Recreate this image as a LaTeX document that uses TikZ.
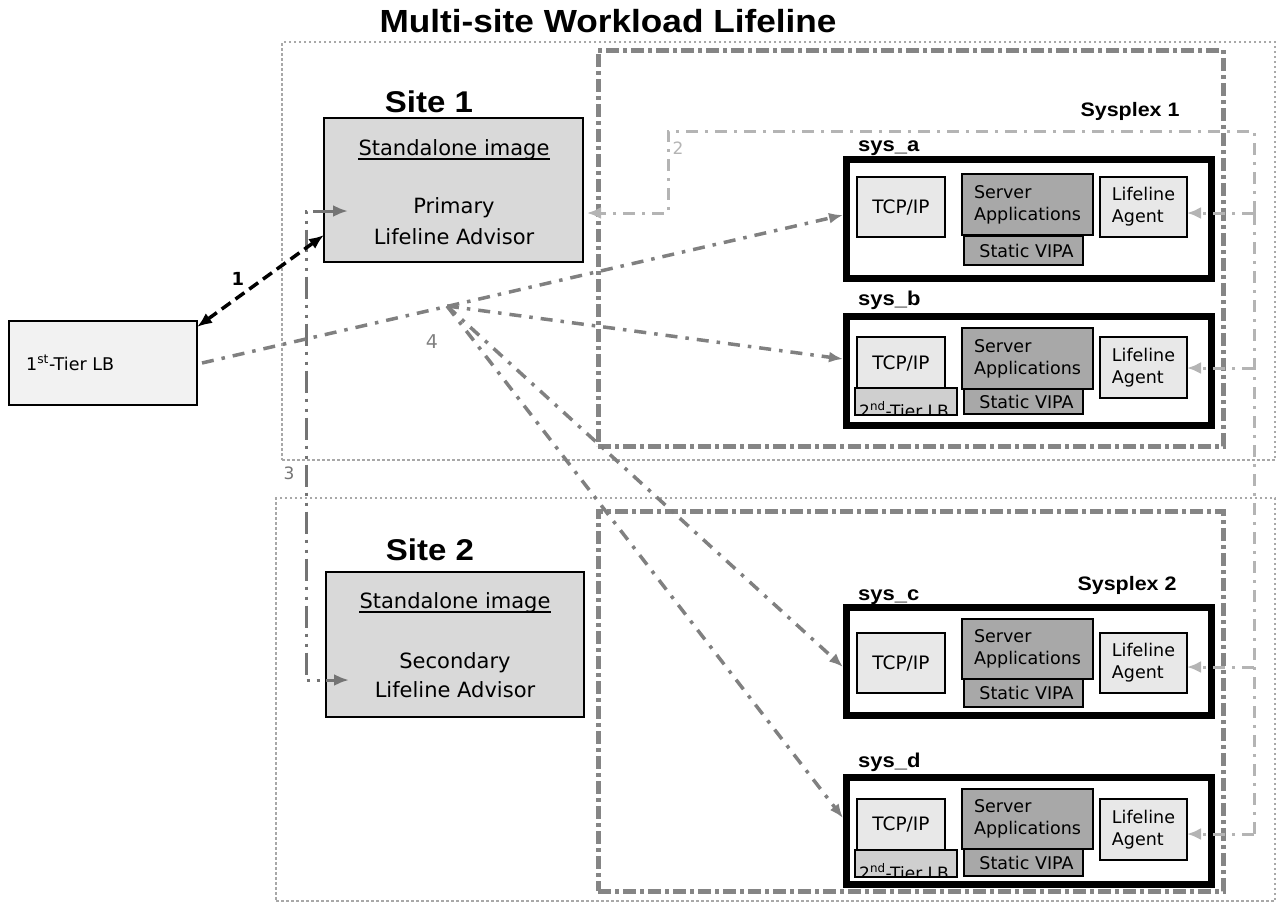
\documentclass[tikz,border=0pt]{standalone}
\usepackage{fontspec}
\setmainfont{DejaVu Sans}
\newfontfamily\arb[FakeStretch=1.1]{Liberation Sans}
\usetikzlibrary{arrows.meta}
\definecolor{cAdv}{HTML}{D9D9D9}
\definecolor{cLB}{HTML}{F2F2F2}
\definecolor{cLight}{HTML}{E8E8E8}
\definecolor{cDark}{HTML}{A8A8A8}
\definecolor{cTier}{HTML}{CFCFCF}
\definecolor{cSite}{HTML}{A8A8A8}
\definecolor{cPlex}{HTML}{858585}
\definecolor{cLine}{HTML}{808080}
\definecolor{cLineB}{HTML}{747474}
\definecolor{cLG}{HTML}{B4B4B4}
\newcommand\myfs[2]{\fontsize{#1}{#2}\selectfont}
\begin{document}
\begin{tikzpicture}[x=1pt,y=-1pt,
 bx/.style={draw=black,line width=1.5pt,inner sep=0pt,outer sep=0pt,anchor=north west,align=center,font=\myfs{17.5}{22}},
 lightbox/.style={bx,fill=cLight},
 darkbox/.style={bx,fill=cDark},
 tierbox/.style={bx,fill=cTier},
 advbox/.style={bx,fill=cAdv},
 lbbox/.style={bx,fill=cLB},
 tcpbox/.style={lightbox,font=\myfs{18.5}{22}},
 sysframe/.style={draw=black,line width=7pt,fill=white,inner sep=0pt,anchor=north west,minimum width=365pt},
 plexbox/.style={draw=cPlex,line width=5pt,dash pattern=on 13pt off 4pt on 4pt off 4pt,inner sep=0pt,outer sep=0pt,anchor=north west},
 sitebox/.style={draw=cSite,line width=2.5pt,dash pattern=on 2.5pt off 2.5pt,inner sep=0pt,outer sep=0pt,anchor=north west},
 ttl/.style={font=\arb\bfseries\myfs{32}{36},anchor=base,inner sep=0pt},
 sitelbl/.style={font=\arb\bfseries\myfs{30}{34},anchor=base,inner sep=0pt},
 syslbl/.style={font=\arb\bfseries\myfs{20}{24},anchor=base west,inner sep=0pt},
 plexlbl/.style={font=\arb\bfseries\myfs{19.5}{24},anchor=base,inner sep=0pt},
 advtxt/.style={font=\myfs{21}{25},anchor=base,inner sep=0pt},
 tiertxt/.style={font=\myfs{17}{20},anchor=base west,inner sep=0pt},
 flow/.style={draw=cLine,line width=3.5pt,dash pattern=on 12pt off 8pt on 3.5pt off 8pt},
 flowtip/.style={-{Latex[length=14pt,width=11pt]}},
 lg/.style={draw=cLG,line width=3pt,dash pattern=on 12pt off 7pt on 3pt off 7pt},
 lgtip/.style={-{Latex[length=14pt,width=12pt]}},
 fail/.style={draw=cLineB,line width=3pt,dash pattern=on 22pt off 6pt on 3pt off 7pt on 3pt off 6pt},
 failtip/.style={{Latex[length=15pt,width=12pt]}-{Latex[length=15pt,width=12pt]}},
 numlbl/.style={font=\myfs{18}{20},inner sep=0pt}
]
\useasboundingbox (0,0) rectangle (1278,903);

% site and sysplex frames
\node[sitebox,minimum width=993pt,minimum height=418pt] (site1box) at (282,42) {};
\node[sitebox,minimum width=999pt,minimum height=403pt] (site2box) at (276,498) {};
\node[plexbox,minimum width=625pt,minimum height=396pt] (plex1) at (598,50) {};
\node[plexbox,minimum width=625pt,minimum height=380pt] (plex2) at (598,511) {};

% titles
\node[ttl] (title) at (608,32) {Multi-site Workload Lifeline};
\node[sitelbl] (site1) at (429,112) {Site 1};
\node[sitelbl] (site2) at (430,560) {Site 2};
\node[plexlbl] (plex1lbl) at (1130,116) {Sysplex 1};
\node[plexlbl] (plex2lbl) at (1127,590) {Sysplex 2};

% advisors
\node[advbox,minimum width=259pt,minimum height=144pt] (primary) at (324,118) {};
\node[advtxt] (sa1) at (454,155) {Standalone image};
\draw[line width=1.3pt] ([yshift=-4pt]sa1.base west) -- ([yshift=-4pt]sa1.base east);
\node[advtxt] (pri1) at (454,213) {Primary};
\node[advtxt] (pri2) at (454,244) {Lifeline Advisor};

\node[advbox,minimum width=258pt,minimum height=145pt] (secondary) at (326,572) {};
\node[advtxt] (sa2) at (455,608) {Standalone image};
\draw[line width=1.3pt] ([yshift=-4pt]sa2.base west) -- ([yshift=-4pt]sa2.base east);
\node[advtxt] (sec1) at (455,668) {Secondary};
\node[advtxt] (sec2) at (455,697) {Lifeline Advisor};

% first tier LB
\node[lbbox,minimum width=188pt,minimum height=84pt] (lb) at (9,321) {};
\node[font=\myfs{17.5}{20},anchor=base west,inner sep=0pt] (lbt) at (26,370) {1\textsuperscript{st}-Tier LB};

% sys_a
\node[sysframe,minimum height=119pt] (sysa) at (843,156) {};
\node[syslbl] (sysalbl) at (858,151) {sys\_a};
\node[tcpbox,minimum width=88pt,minimum height=60pt] (tcpa) at (857,177) {TCP/IP};
\node[darkbox,minimum width=131pt,minimum height=61pt,align=left] (srva) at (962,174) {Server\\Applications};
\node[darkbox,minimum width=119pt,minimum height=29pt] (vipa) at (964,236) {\hspace*{6pt}Static VIPA};
\node[lightbox,minimum width=87pt,minimum height=60pt,align=left] (agenta) at (1100,177) {Lifeline\\Agent};

% sys_b
\node[sysframe,minimum height=109pt] (sysb) at (843,313) {};
\node[syslbl] (sysblbl) at (858,305) {sys\_b};
\node[tcpbox,minimum width=88pt,minimum height=52pt] (tcpb) at (857,337) {TCP/IP};
\node[tierbox,minimum width=102pt,minimum height=27pt] (lbb) at (855,388) {};
\begin{scope}
\clip (lbb.south west) rectangle (lbb.north east);
\node[tiertxt] (lbbt) at (859,417) {2\textsuperscript{nd}-Tier LB};
\end{scope}
\draw[line width=1.5pt] (lbb.south west) rectangle (lbb.north east);
\node[darkbox,minimum width=131pt,minimum height=61pt,align=left] (srvb) at (962,328) {Server\\Applications};
\node[darkbox,minimum width=119pt,minimum height=25pt] (vipb) at (964,389) {\hspace*{6pt}Static VIPA};
\node[lightbox,minimum width=87pt,minimum height=61pt,align=left] (agentb) at (1100,337) {Lifeline\\Agent};

% sys_c
\node[sysframe,minimum height=108pt] (sysc) at (843,604) {};
\node[syslbl] (sysclbl) at (858,600) {sys\_c};
\node[tcpbox,minimum width=88pt,minimum height=60pt] (tcpc) at (857,633) {TCP/IP};
\node[darkbox,minimum width=131pt,minimum height=60pt,align=left] (srvc) at (962,619) {Server\\Applications};
\node[darkbox,minimum width=119pt,minimum height=28pt] (vipc) at (964,679) {\hspace*{6pt}Static VIPA};
\node[lightbox,minimum width=87pt,minimum height=60pt,align=left] (agentc) at (1100,633) {Lifeline\\Agent};

% sys_d
\node[sysframe,minimum height=107pt] (sysd) at (843,774) {};
\node[syslbl] (sysdlbl) at (858,767) {sys\_d};
\node[tcpbox,minimum width=88pt,minimum height=51pt] (tcpd) at (857,799) {TCP/IP};
\node[tierbox,minimum width=102pt,minimum height=27pt] (lbd) at (855,850) {};
\begin{scope}
\clip (lbd.south west) rectangle (lbd.north east);
\node[tiertxt] (lbdt) at (859,879) {2\textsuperscript{nd}-Tier LB};
\end{scope}
\draw[line width=1.5pt] (lbd.south west) rectangle (lbd.north east);
\node[darkbox,minimum width=131pt,minimum height=60pt,align=left] (srvd) at (962,789) {Server\\Applications};
\node[darkbox,minimum width=119pt,minimum height=27pt] (vipd) at (964,849) {\hspace*{6pt}Static VIPA};
\node[lightbox,minimum width=87pt,minimum height=61pt,align=left] (agentd) at (1100,799) {Lifeline\\Agent};

% coordinates
\coordinate (J) at (447,306);
\coordinate (bustop) at (1254,131);
\coordinate (corner2) at (668,131);
\coordinate (elbow2) at (668,213);
\coordinate (busa) at (1254,213);
\coordinate (busb) at (1254,368);
\coordinate (busc) at (1254,667);
\coordinate (busd) at (1254,834);
\coordinate (t3a) at (348,211);
\coordinate (k3a) at (306,211);
\coordinate (k3b) at (306,680);
\coordinate (t3b) at (349,680);

% flow 2 (light gray)
\draw[lg,lgtip] (busa) -- (bustop) -- (corner2) -- (elbow2) -- ([xshift=4pt]elbow2 -| primary.east);
\draw[lg] (busa) -- (busd);
\foreach \s in {a,b,c,d} \draw[lg,lgtip] (bus\s) -- (bus\s -| agent\s.east);

% flow 3
\draw[fail,failtip] (t3a) -- (k3a) -- (k3b) -- (t3b);

% flow 4 and LB to sys_a
\draw[flow,flowtip] ([xshift=5pt]lb.east) -- ([yshift=4pt]sysa.west);
\draw[flow,flowtip] (J) -- ([yshift=12pt]sysb.west);
\draw[flow,flowtip] (J) -- ([yshift=-5.5pt]sysc.west);
\draw[flow,flowtip] (J) -- ([yshift=13pt]sysd.west);

% flow 1
\draw[black,line width=3.5pt,dash pattern=on 11pt off 6pt,{Latex[length=15pt,width=12pt]}-{Latex[length=15pt,width=12pt]}] ([yshift=-6pt]lb.north east) -- ([yshift=27pt]primary.south west);

% number labels
\node[numlbl,font=\bfseries\myfs{18}{20}] (n1) at (238,279) {1};
\node[numlbl,text=cLG,font=\myfs{17}{20}] (n2) at (678,148) {2};
\node[numlbl,text=cLineB,font=\myfs{17}{20}] (n3) at (289,473) {3};
\node[numlbl,text=cLine,font=\myfs{19}{20}] (n4) at (432,342) {4};
\end{tikzpicture}
\end{document}
